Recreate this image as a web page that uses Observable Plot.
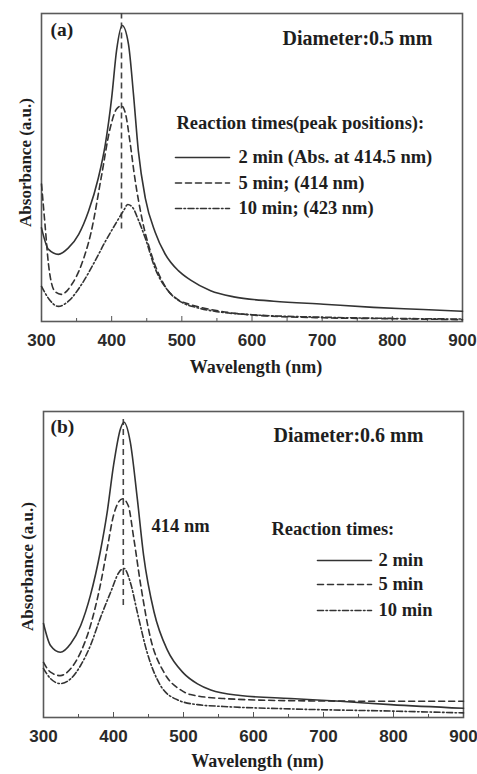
<!DOCTYPE html>
<html>
<head>
<meta charset="utf-8">
<script src="https://cdn.jsdelivr.net/npm/d3@7"></script>
<script src="https://cdn.jsdelivr.net/npm/@observablehq/plot@0.6"></script>
<style>
  html, body { margin: 0; padding: 0; background: #fff; }
  #chart svg { display: block; }
  #chart svg g[aria-label="x-axis tick label"] { font-weight: bold; font-size: 17px; font-family: 'Liberation Sans', Arial, sans-serif; }
</style>
</head>
<body>
<div id="chart"></div>
<script>
// ---------- shared ----------
const xTicks = [300, 400, 500, 600, 700, 800, 900];
const xMinorTicks = [350, 450, 550, 650, 750, 850];
const xTitle = "Wavelength (nm)";
const yTitle = "Absorbance (a.u.)";
const seriesNames = ["2 min", "5 min", "10 min"];
const seriesDash = [null, "6,4", "6,2.5,1.5,2.5"];

// ---------- panel (a): diameter 0.5 mm ----------
const aTag = "(a)";
const aDiameter = "Diameter:0.5 mm";
const aLegendTitle = "Reaction times(peak positions):";
const aLegend = ["2 min (Abs. at 414.5 nm)", "5 min; (414 nm)", "10 min; (423 nm)"];

const a2Nm  = [300, 310, 324, 338, 353, 367, 381, 391, 400, 407, 415, 424, 431, 438, 448, 462, 476, 495, 512, 541, 574, 631, 702, 773, 844, 900];
const a2Abs = [0.304, 0.234, 0.218, 0.238, 0.283, 0.358, 0.466, 0.576, 0.726, 0.88, 0.961, 0.90, 0.74, 0.554, 0.40, 0.29, 0.22, 0.165, 0.135, 0.1, 0.08, 0.066, 0.056, 0.046, 0.039, 0.033];

const a5Nm  = [300, 305, 310, 319, 328, 343, 357, 371, 385, 398, 407, 414, 420, 426, 433, 443, 457, 476, 495, 512, 541, 607, 702, 800, 900];
const a5Abs = [0.446, 0.315, 0.185, 0.098, 0.088, 0.12, 0.185, 0.293, 0.466, 0.629, 0.69, 0.70, 0.672, 0.585, 0.466, 0.336, 0.215, 0.115, 0.07, 0.055, 0.039, 0.02, 0.012, 0.009, 0.006];

const a10Nm  = [300, 310, 324, 338, 357, 376, 391, 405, 417, 423, 430, 438, 448, 462, 481, 500, 520, 550, 600, 700, 800, 900];
const a10Abs = [0.114, 0.075, 0.049, 0.065, 0.12, 0.195, 0.26, 0.315, 0.36, 0.38, 0.37, 0.33, 0.27, 0.172, 0.098, 0.062, 0.046, 0.032, 0.022, 0.014, 0.010, 0.008];

const aPeakNm = [414];
const aPeakLow = [0.30];
const aPeakHigh = [1.0];

// ---------- panel (b): diameter 0.6 mm ----------
const bTag = "(b)";
const bDiameter = "Diameter:0.6 mm";
const bPeakLabel = "414 nm";
const bLegendTitle = "Reaction times:";
const bLegend = ["2 min", "5 min", "10 min"];

const b2Nm  = [300, 310, 324, 339, 353, 367, 381, 391, 400, 410, 415, 424, 434, 443, 458, 477, 500, 520, 539, 581, 653, 724, 796, 900];
const b2Abs = [0.307, 0.235, 0.213, 0.242, 0.30, 0.399, 0.54, 0.671, 0.823, 0.944, 0.965, 0.90, 0.715, 0.53, 0.344, 0.22, 0.145, 0.11, 0.09, 0.072, 0.062, 0.053, 0.042, 0.030];

const b5Nm  = [300, 310, 324, 339, 353, 367, 381, 391, 400, 413, 421, 429, 439, 453, 472, 496, 510, 557, 653, 796, 900];
const b5Abs = [0.18, 0.148, 0.137, 0.16, 0.213, 0.30, 0.431, 0.552, 0.66, 0.715, 0.693, 0.585, 0.431, 0.258, 0.148, 0.09, 0.075, 0.062, 0.055, 0.053, 0.053];

const b10Nm  = [300, 310, 324, 339, 353, 367, 381, 396, 408, 415, 424, 434, 448, 467, 491, 520, 557, 653, 796, 900];
const b10Abs = [0.16, 0.127, 0.111, 0.127, 0.17, 0.235, 0.324, 0.41, 0.475, 0.487, 0.442, 0.344, 0.213, 0.105, 0.058, 0.042, 0.036, 0.028, 0.021, 0.015];

const bPeakNm = [414];
const bPeakLow = [0.366];
const bPeakHigh = [0.987];

// ---------- helpers ----------
const rows = (nm, abs) => nm.map((x, i) => ({nm: x, abs: abs[i]}));
const SERIF = "'Liberation Serif', 'Times New Roman', serif";
const SANS = "'Liberation Sans', Arial, sans-serif";
const INK = "#1e1e1e";
const LINE = "#333";
const hline = {draw(ctx, l) { ctx.moveTo(0, 0); ctx.lineTo(0, -l); }};

function note(text, dx, dy, size = 18.5) {
  return Plot.text([text], {
    frameAnchor: "top-left", dx, dy, textAnchor: "start", lineAnchor: "middle",
    fontSize: size, fontWeight: "bold", fontFamily: SERIF, fill: INK
  });
}

function panel(o) {
  const marks = [
    Plot.frame({stroke: "#5a5a5a", strokeWidth: 1.6}),
    Plot.axisX({ticks: xTicks, tickSize: 0, tickPadding: 12, label: null,
      fontSize: 17, fontWeight: "bold", fontFamily: SANS, fill: "#2a2a2a"}),
    Plot.axisX({ticks: xTicks, tickSize: -5, fill: "none", label: null, stroke: "#555"}),
    Plot.axisX({ticks: xMinorTicks, tickSize: -3, fill: "none", label: null, stroke: "#555"}),
    Plot.ruleX(o.peakNm.map((x, i) => ({nm: x, lo: o.peakLow[i], hi: o.peakHigh[i]})),
      {x: "nm", y1: "lo", y2: "hi", stroke: "#444", strokeWidth: 1.6, strokeDasharray: seriesDash[1]}),
    ...o.series.map((s, i) => Plot.line(rows(s[0], s[1]), {
      x: "nm", y: "abs", curve: "monotone-x", stroke: LINE, strokeWidth: 1.6,
      strokeDasharray: seriesDash[i]
    })),
    Plot.text([xTitle], {frameAnchor: "bottom", dx: 4, dy: o.xTitleDy, fontSize: 18,
      textAnchor: "middle", lineAnchor: "middle",
      fontWeight: "bold", fontFamily: SERIF, fill: INK}),
    Plot.text([yTitle], {frameAnchor: "left", rotate: -90, dx: -16, dy: o.yTitleDy, fontSize: 17,
      textAnchor: "middle", lineAnchor: "middle",
      fontWeight: "bold", fontFamily: SERIF, fill: INK}),
    note(o.tag, o.tagPos[0], o.tagPos[1], 19.5),
    note(o.diameter, o.diaPos[0], o.diaPos[1], 20),
    note(o.legendTitle, o.ltPos[0], o.ltPos[1]),
    ...(o.extra || []),
  ];
  o.legend.forEach((lab, i) => {
    marks.push(Plot.vector([lab], {
      frameAnchor: "top-left", dx: o.swatchX, dy: o.rowY[i], length: o.swatchLen, rotate: 90,
      anchor: "start", shape: hline, stroke: LINE, strokeWidth: 1.6, strokeDasharray: seriesDash[i]
    }));
    marks.push(note(lab, o.textX, o.rowY[i]));
  });
  return Plot.plot({
    width: 477, height: 387,
    marginTop: o.margin[0], marginRight: o.margin[1], marginBottom: o.margin[2], marginLeft: o.margin[3],
    x: {domain: [300, 900]},
    y: {domain: [0, 1], axis: null},
    style: {background: "#fff", fontFamily: SERIF},
    marks
  });
}

const chart = document.getElementById("chart");
chart.append(panel({
  margin: [13, 15, 66, 41],
  series: [[a2Nm, a2Abs], [a5Nm, a5Abs], [a10Nm, a10Abs]],
  peakNm: aPeakNm, peakLow: aPeakLow, peakHigh: aPeakHigh,
  tag: aTag, tagPos: [9, 16],
  diameter: aDiameter, diaPos: [241, 25],
  legendTitle: aLegendTitle, ltPos: [135, 110],
  legend: aLegend, swatchX: 134, swatchLen: 54, textX: 197, rowY: [144, 169.5, 195],
  xTitleDy: 46, yTitleDy: -5
}));
chart.append(panel({
  margin: [24, 14, 57, 43],
  series: [[b2Nm, b2Abs], [b5Nm, b5Abs], [b10Nm, b10Abs]],
  peakNm: bPeakNm, peakLow: bPeakLow, peakHigh: bPeakHigh,
  tag: bTag, tagPos: [7, 15],
  diameter: bDiameter, diaPos: [230, 24],
  legendTitle: bLegendTitle, ltPos: [228, 118],
  legend: bLegend, swatchX: 274, swatchLen: 54, textX: 335, rowY: [149, 173, 199],
  xTitleDy: 44, yTitleDy: 2,
  extra: [note(bPeakLabel, 108, 115)]
}));
</script>
</body>
</html>
